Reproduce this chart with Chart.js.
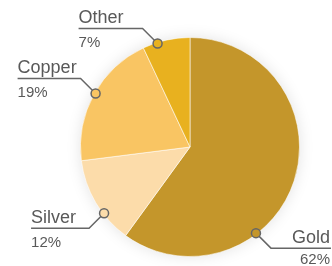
<!DOCTYPE html>
<html>
<head>
<meta charset="utf-8">
<script src="https://cdn.jsdelivr.net/npm/chart.js@4/dist/chart.umd.min.js"></script>
<style>
  body { margin: 0; background: #fff; }
  #wrap { width: 332px; height: 266px; position: relative; }
</style>
</head>
<body>
<div id="wrap"><canvas id="myChart" width="332" height="266"></canvas></div>
<script>
const metals = ["Gold", "Silver", "Copper", "Other"];
const shares = [60, 13, 20, 7];
const shareLabels = ["62%", "12%", "19%", "7%"];
const sliceColors = ["#c4962b", "#fcdcaa", "#f9c563", "#e8b11f"];

// where along each slice the connector starts, and how long its flat part is
const anchorFrac = [0.66, 0.35, 0.51, 0.31];
const lineLength = [60, 58, 63, 64];

const halo = {
  id: "halo",
  beforeDatasetsDraw(chart) {
    const arc = chart.getDatasetMeta(0).data[0];
    if (!arc) return;
    const ctx = chart.ctx;
    ctx.save();
    ctx.shadowColor = "rgba(0,0,0,0.13)";
    ctx.shadowBlur = 16;
    ctx.fillStyle = "#fff";
    ctx.beginPath();
    ctx.arc(arc.x, arc.y, arc.outerRadius - 1, 0, Math.PI * 2);
    ctx.fill();
    ctx.restore();
  }
};

const callouts = {
  id: "callouts",
  afterDatasetsDraw(chart) {
    const ctx = chart.ctx;
    const arcs = chart.getDatasetMeta(0).data;
    arcs.forEach((arc, i) => {
      const p = arc.getProps(["x", "y", "startAngle", "endAngle", "outerRadius"], true);
      const a = p.startAngle + anchorFrac[i] * (p.endAngle - p.startAngle);
      const ax = p.x + Math.cos(a) * (p.outerRadius - 1);
      const ay = p.y + Math.sin(a) * (p.outerRadius - 1);
      const dx = Math.cos(a) < 0 ? -1 : 1;
      const dy = Math.sin(a) < 0 ? -1 : 1;
      const ex = ax + dx * 15;
      const ey = ay + dy * 15;
      let lx = ex + dx * lineLength[i];
      lx = Math.max(0, Math.min(chart.width, lx));

      ctx.save();
      ctx.strokeStyle = "#666";
      ctx.lineWidth = 1.5;
      ctx.beginPath();
      ctx.moveTo(ax, ay);
      ctx.lineTo(ex, ey);
      ctx.lineTo(lx, ey);
      ctx.stroke();

      ctx.fillStyle = sliceColors[i];
      ctx.beginPath();
      ctx.arc(ax, ay, 4.5, 0, Math.PI * 2);
      ctx.fill();
      ctx.stroke();

      ctx.fillStyle = "#595959";
      ctx.textBaseline = "alphabetic";
      let tx = lx;
      if (dx > 0) {
        ctx.textAlign = "right";
        tx = Math.min(lx, chart.width - 2);
      } else {
        ctx.textAlign = "left";
      }
      ctx.font = "18px 'Liberation Sans', Arial, sans-serif";
      ctx.fillText(metals[i], tx, ey - 5.5);
      ctx.font = "15px 'Liberation Sans', Arial, sans-serif";
      ctx.fillText(shareLabels[i], tx, Math.min(ey + 18.5, chart.height - 2.5));
      ctx.restore();
    });
  }
};

const ctx = document.getElementById("myChart").getContext("2d");
const myChart = new Chart(ctx, {
  type: "pie",
  data: {
    labels: metals,
    datasets: [
      {
        data: shares,
        backgroundColor: sliceColors,
        borderColor: "rgba(255,255,255,0.55)",
        borderWidth: 1,
      },
    ],
  },
  options: {
    responsive: false,
    animation: false,
    layout: { padding: { left: 80, right: 32, top: 36, bottom: 8 } },
    plugins: {
      legend: { display: false },
      tooltip: { enabled: false },
    },
  },
  plugins: [halo, callouts],
});
</script>
</body>
</html>
